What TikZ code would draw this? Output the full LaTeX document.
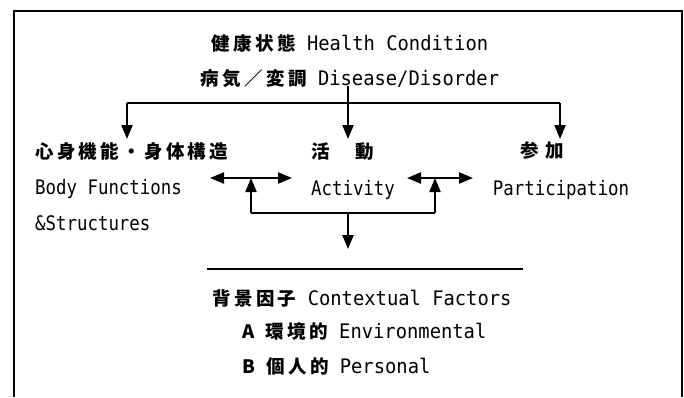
\documentclass[tikz,border=0pt]{standalone}
\usepackage{fontspec}
\setmainfont{DejaVu Sans Mono}[FakeStretch=0.87]
\newfontfamily\wide{DejaVu Sans Mono}[FakeStretch=0.94]
\newfontfamily\cjk{Noto Sans CJK JP}[LetterSpace=18]
\usetikzlibrary{arrows.meta}
\newcommand\jp[1]{{\cjk\bfseries\fontsize{18.5pt}{22pt}\selectfont #1}}
\tikzset{
  txt/.style={inner sep=0pt, text height=15pt, text depth=4pt, font=\fontsize{20pt}{24pt}\selectfont},
  wtxt/.style={txt, font=\wide\fontsize{20pt}{24pt}\selectfont},
  frameline/.style={line width=1.6pt},
  conn/.style={line width=2.2pt},
  arr/.style={conn, -{Triangle[length=14pt,width=11pt]}},
  darr/.style={conn, {Triangle[length=14pt,width=11pt]}-{Triangle[length=14pt,width=11pt]}}
}
\begin{document}
\begin{tikzpicture}[x=1pt,y=-1pt]
\useasboundingbox (0,0) rectangle (684,397);
\draw[frameline] (14,397) -- (14,11) -- (682,11) -- (682,397);

% texts
\node[wtxt] (hc) at (350,45) {\jp{健康状態} Health Condition};
\node[wtxt] (dd) at (350,80) {\jp{病気／変調} Disease/Disorder};
\node[txt, anchor=west] (bf1) at (35,153) {\jp{心身機能・身体構造}};
\node[txt, anchor=west] (bf2) at (35,189) {Body Functions};
\node[txt, anchor=west] (bf3) at (35,225) {\&Structures};
\node[txt] (act1) at (343,153) {\jp{活　動}};
\node[txt] (act2) at (353,190) {Activity};
\node[txt] (par1) at (542,152) {\jp{参}\hspace{6pt}\jp{加}};
\node[txt] (par2) at (561,190) {Participation};
\node[wtxt] (cf) at (362,300) {\jp{背景因子} Contextual Factors};
\node[wtxt, anchor=west] (ca) at (242,333) {\jp{A} \jp{環境的} Environmental};
\node[wtxt, anchor=west] (cb) at (242,368) {\jp{B} \jp{個人的} Personal};

% coordinates
\coordinate (top) at (348,86);
\coordinate (tj) at (348,103);
\coordinate (tl) at (127,103);
\coordinate (tr) at (560,103);
\coordinate (dl1) at (210,178);
\coordinate (dl2) at (292,178);
\coordinate (dr1) at (407,178);
\coordinate (dr2) at (473,178);
\coordinate (ul) at (251,178);
\coordinate (ur) at (435,178);
\coordinate (bl) at (251,213);
\coordinate (br) at (435,213);
\coordinate (bm) at (348,213);
\coordinate (sepl) at (207,269);
\coordinate (sepr) at (523,269);

% connectors
\draw[conn] (tl) -- (tr);
\draw[arr] (top) -- (348,139);
\draw[arr] (tl) -- (127,139);
\draw[arr] (tr) -- (560,139);
\draw[darr] (dl1) -- (dl2);
\draw[darr] (dr1) -- (dr2);
\draw[conn] (bl) -- (br);
\draw[arr] (bl) -- (ul);
\draw[arr] (br) -- (ur);
\draw[arr] (bm) -- (348,249);
\draw[conn] (sepl) -- (sepr);
\end{tikzpicture}
\end{document}
